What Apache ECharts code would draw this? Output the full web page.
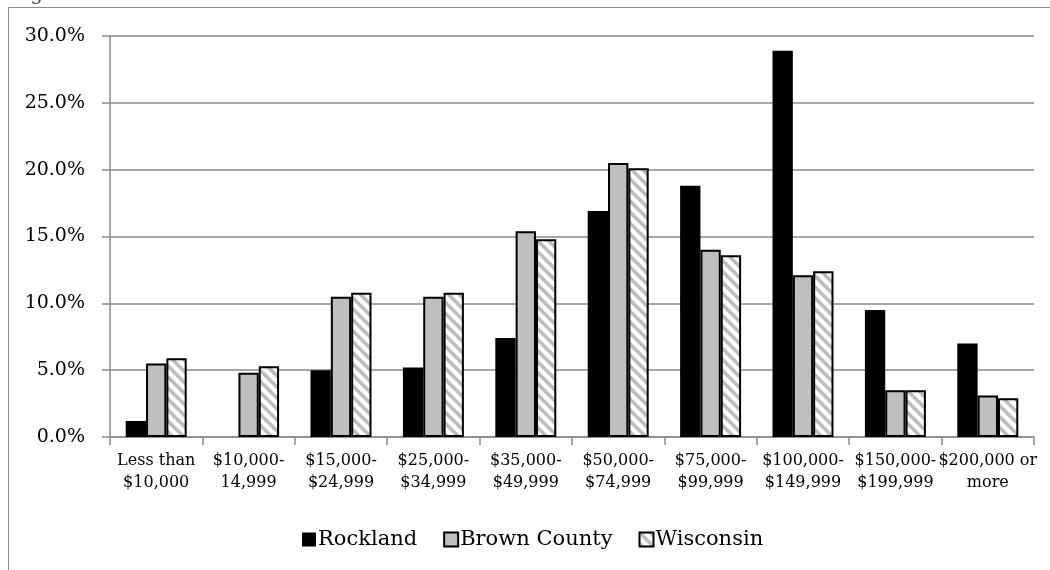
<!DOCTYPE html>
<html>
<head>
<meta charset="utf-8">
<script src="https://cdn.jsdelivr.net/npm/echarts@6/dist/echarts.min.js"></script>
<style>
  html, body { margin: 0; padding: 0; background: #fff; }
  #chart { width: 1050px; height: 570px; }
</style>
</head>
<body>
<div id="chart"></div>
<script>
// Household income distribution (share of households)
const categories = [
  'Less than\n$10,000', '$10,000-\n14,999', '$15,000-\n$24,999', '$25,000-\n$34,999',
  '$35,000-\n$49,999', '$50,000-\n$74,999', '$75,000-\n$99,999', '$100,000-\n$149,999',
  '$150,000-\n$199,999', '$200,000 or\nmore'
];
const rockland     = [1.2, 0.0, 5.0, 5.2, 7.4, 16.9, 18.8, 28.9, 9.5, 7.0];
const brownCounty  = [5.5, 4.8, 10.5, 10.5, 15.4, 20.5, 14.0, 12.1, 3.5, 3.1];
const wisconsin    = [5.9, 5.3, 10.8, 10.8, 14.8, 20.1, 13.6, 12.4, 3.5, 2.9];
const seriesNames  = ['Rockland', 'Brown County', 'Wisconsin'];
const yTicks = { min: 0, max: 30, interval: 5 };

const FONT = 'DejaVu Serif';

// diagonal hatch tile for the Wisconsin bars
function hatchTile() {
  const s = 11;
  const c = document.createElement('canvas');
  c.width = s; c.height = s;
  const g = c.getContext('2d');
  g.fillStyle = '#ffffff';
  g.fillRect(0, 0, s, s);
  g.strokeStyle = '#bcbcbc';
  g.lineWidth = 3.6;
  for (let k = -1; k <= 1; k++) {
    g.beginPath();
    g.moveTo(k * s - 2, -2);
    g.lineTo(k * s + s + 2, s + 2);
    g.stroke();
  }
  return c;
}
const hatch = { image: hatchTile(), repeat: 'repeat' };

const chart = echarts.init(document.getElementById('chart'), null, { renderer: 'canvas' });

chart.setOption({
  animation: false,
  backgroundColor: '#ffffff',
  textStyle: { fontFamily: FONT },
  graphic: [
    {
      type: 'rect', silent: true, z: -1,
      shape: { x: 8.5, y: 7.5, width: 1100, height: 620 },
      style: { fill: 'none', stroke: '#8a8a8a', lineWidth: 1 }
    },
    {
      type: 'text', left: 10, top: -15, silent: true,
      style: { text: 'Figure 5. Household Income', font: '20px "DejaVu Serif"', fill: '#444' }
    }
  ],
  grid: { left: 110, right: 16, top: 36, bottom: 133 },
  legend: {
    left: 297, top: 524,
    itemWidth: 14, itemHeight: 14, itemGap: 26,
    icon: 'rect',
    textStyle: { fontFamily: FONT, fontSize: 21, color: '#000', padding: [0, 0, 0, -3] },
    data: seriesNames
  },
  xAxis: {
    type: 'category',
    data: categories,
    axisLine: { lineStyle: { color: '#8a8a8a', width: 1.5 } },
    axisTick: { show: true, length: 8, lineStyle: { color: '#8a8a8a', width: 1.5 } },
    axisLabel: {
      interval: 0, margin: 13,
      fontFamily: FONT, fontSize: 16, lineHeight: 22, color: '#000'
    }
  },
  yAxis: {
    type: 'value',
    min: yTicks.min, max: yTicks.max, interval: yTicks.interval,
    axisLine: { show: true, lineStyle: { color: '#8a8a8a', width: 1.5 } },
    axisTick: { show: true, length: 8, lineStyle: { color: '#8a8a8a', width: 1.5 } },
    splitLine: { lineStyle: { color: '#8a8a8a', width: 1.5 } },
    axisLabel: {
      margin: 25,
      fontFamily: FONT, fontSize: 19, color: '#000',
      formatter: v => v.toFixed(1) + '%'
    }
  },
  series: [
    {
      name: seriesNames[0], type: 'bar', data: rockland,
      barWidth: '22%', barGap: '0%',
      itemStyle: { color: '#000000' }
    },
    {
      name: seriesNames[1], type: 'bar', data: brownCounty,
      barWidth: '22%', barGap: '0%',
      itemStyle: { color: '#bfbfbf', borderColor: '#000', borderWidth: 2 }
    },
    {
      name: seriesNames[2], type: 'bar', data: wisconsin,
      barWidth: '22%', barGap: '0%',
      itemStyle: { color: hatch, borderColor: '#000', borderWidth: 2 }
    }
  ]
});
</script>
</body>
</html>
